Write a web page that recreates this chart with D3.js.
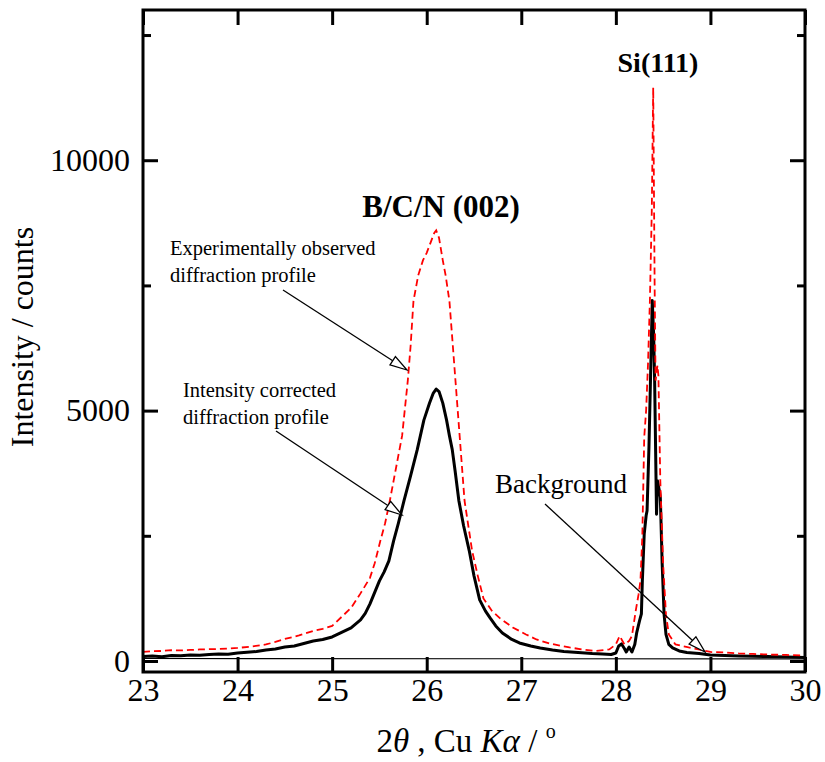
<!DOCTYPE html>
<html>
<head>
  <title>B/C/N XRD profile</title>
  <style>
    body { margin: 0; background: #fff; }
    text { font-family: "Liberation Serif", "Times New Roman", serif; fill: #000; }
  </style>
</head>
<body>
  <svg id="chart"></svg>

  <script src="https://d3js.org/d3.v7.min.js"></script>
  <script>
    // intensity corrected profile (solid black)
    const corrTheta = [23.0, 23.1, 23.2, 23.3, 23.4, 23.5, 23.6, 23.7, 23.8, 23.9, 24.0, 24.1, 24.2, 24.3, 24.4, 24.5, 24.6, 24.7, 24.8, 24.9, 25.0, 25.1, 25.2, 25.3, 25.35, 25.4, 25.45, 25.5, 25.55, 25.6, 25.65, 25.7, 25.76, 25.83, 25.9, 25.97, 26.03, 26.07, 26.1, 26.13, 26.17, 26.21, 26.24, 26.27, 26.3, 26.34, 26.39, 26.45, 26.5, 26.56, 26.62, 26.67, 26.73, 26.8, 26.9, 26.98, 27.1, 27.2, 27.33, 27.45, 27.6, 27.75, 27.86, 27.95, 28.0, 28.03, 28.06, 28.09, 28.11, 28.14, 28.17, 28.2, 28.22, 28.25, 28.27, 28.28, 28.30, 28.32, 28.33, 28.35, 28.37, 28.385, 28.40, 28.41, 28.43, 28.44, 28.46, 28.47, 28.49, 28.51, 28.53, 28.56, 28.6, 28.67, 28.75, 28.88, 29.0, 29.15, 29.3, 29.45, 29.6, 29.8, 30.0];
    const corrI = [90, 100, 85, 110, 105, 120, 115, 130, 140, 135, 160, 175, 190, 220, 240, 280, 300, 350, 400, 430, 480, 570, 660, 820, 950, 1140, 1370, 1600, 1780, 2000, 2400, 2750, 3200, 3700, 4220, 4810, 5150, 5350, 5430, 5380, 5150, 4810, 4500, 4220, 3800, 3200, 2700, 2200, 1700, 1220, 1000, 860, 700, 560, 430, 360, 300, 260, 220, 190, 170, 150, 140, 130, 160, 300, 340, 250, 180, 280, 180, 330, 560, 800, 940, 1600, 2540, 2900, 3000, 4270, 5930, 7200, 6500, 5600, 2930, 3600, 3400, 3270, 1930, 930, 530, 330, 260, 200, 170, 150, 120, 110, 100, 95, 90, 80, 70];

    // experimentally observed profile (red dashed)
    const obsTheta = [23.0, 23.1, 23.2, 23.3, 23.4, 23.5, 23.6, 23.7, 23.8, 23.9, 24.0, 24.15, 24.3, 24.4, 24.5, 24.65, 24.8, 24.9, 25.0, 25.1, 25.2, 25.3, 25.4, 25.45, 25.51, 25.56, 25.61, 25.66, 25.7, 25.74, 25.8, 25.83, 25.86, 25.91, 25.96, 26.0, 26.04, 26.08, 26.1, 26.13, 26.17, 26.2, 26.24, 26.28, 26.32, 26.36, 26.4, 26.44, 26.48, 26.54, 26.6, 26.69, 26.77, 26.91, 27.05, 27.16, 27.3, 27.51, 27.65, 27.79, 27.93, 28.0, 28.04, 28.07, 28.09, 28.12, 28.14, 28.17, 28.21, 28.24, 28.26, 28.28, 28.30, 28.32, 28.34, 28.36, 28.38, 28.395, 28.41, 28.42, 28.44, 28.45, 28.47, 28.5, 28.53, 28.56, 28.63, 28.7, 28.77, 28.9, 29.0, 29.15, 29.3, 29.45, 29.6, 29.8, 30.0];
    const obsI = [180, 195, 200, 215, 210, 220, 230, 235, 240, 250, 260, 290, 330, 380, 440, 510, 600, 640, 700, 880, 1060, 1350, 1660, 1950, 2400, 2750, 3200, 3700, 4100, 4500, 5600, 6300, 7190, 7700, 8000, 8150, 8350, 8550, 8600, 8450, 8000, 7700, 7190, 6200, 5200, 4200, 3200, 2700, 2200, 1700, 1250, 1000, 860, 670, 530, 430, 350, 270, 230, 200, 230, 330, 500, 400, 330, 370, 400, 500, 1000, 1330, 1600, 2500, 4470, 5000, 5930, 7200, 9000, 11450, 7500, 5600, 5900, 5700, 3600, 1930, 930, 530, 330, 300, 270, 220, 180, 170, 150, 140, 130, 120, 110];

    // background line
    const bgTheta = [23.0, 30.0];
    const bgI = [50, 40];

    const xTicks = [23, 24, 25, 26, 27, 28, 29, 30];
    const yMajor = [0, 5000, 10000];
    const yMinor = [2500, 7500, 12500];

    const W = 825, H = 762;
    const mLeft = 143, mRight = 805, mTop = 10, mBottom = 672;

    const svg = d3.select('#chart').attr('width', W).attr('height', H);

    const x = d3.scaleLinear().domain([23, 30]).range([mLeft, mRight]);
    const y = d3.scaleLinear().domain([-220, 13000]).range([mBottom, mTop]);

    const plot = svg.append('g');

    // curves
    const line = d3.line().x(d => x(d[0])).y(d => y(d[1]));

    plot.append('path')
      .datum(d3.zip(bgTheta, bgI))
      .attr('d', line)
      .attr('fill', 'none').attr('stroke', '#000').attr('stroke-width', 1.2);

    plot.append('path')
      .datum(d3.zip(corrTheta, corrI))
      .attr('d', line)
      .attr('fill', 'none').attr('stroke', '#000').attr('stroke-width', 3)
      .attr('stroke-linejoin', 'round');

    plot.append('path')
      .datum(d3.zip(obsTheta, obsI))
      .attr('d', line)
      .attr('fill', 'none').attr('stroke', '#ff0000').attr('stroke-width', 1.8)
      .attr('stroke-dasharray', '7,4');

    // axes, ticks inward
    function styleAxis(g) {
      g.select('.domain').remove();
      g.selectAll('.tick line').attr('stroke-width', 3);
      g.selectAll('.tick text').style('font-size', '32px')
        .style('font-family', '"Liberation Serif", serif');
    }

    svg.append('g').attr('transform', `translate(0,${mBottom})`)
      .call(d3.axisBottom(x).tickValues(xTicks).tickSizeInner(-15).tickSizeOuter(0).tickPadding(6).tickFormat(d3.format('d')))
      .call(styleAxis);
    svg.append('g').attr('transform', `translate(0,${mTop})`)
      .call(d3.axisTop(x).tickValues(xTicks).tickSizeInner(-15).tickSizeOuter(0).tickFormat(''))
      .call(styleAxis);

    svg.append('g').attr('transform', `translate(${mLeft},0)`)
      .call(d3.axisLeft(y).tickValues(yMajor).tickSizeInner(-15).tickSizeOuter(0).tickPadding(13).tickFormat(d3.format('d')))
      .call(styleAxis);
    svg.append('g').attr('transform', `translate(${mLeft},0)`)
      .call(d3.axisLeft(y).tickValues(yMinor).tickSizeInner(-8).tickSizeOuter(0).tickFormat(''))
      .call(styleAxis);
    svg.append('g').attr('transform', `translate(${mRight},0)`)
      .call(d3.axisRight(y).tickValues(yMajor).tickSizeInner(-15).tickSizeOuter(0).tickFormat(''))
      .call(styleAxis);
    svg.append('g').attr('transform', `translate(${mRight},0)`)
      .call(d3.axisRight(y).tickValues(yMinor).tickSizeInner(-8).tickSizeOuter(0).tickFormat(''))
      .call(styleAxis);

    // frame
    svg.append('rect')
      .attr('x', mLeft).attr('y', mTop)
      .attr('width', mRight - mLeft).attr('height', mBottom - mTop)
      .attr('fill', 'none').attr('stroke', '#000').attr('stroke-width', 3);

    // axis titles
    svg.append('text')
      .attr('transform', 'translate(33,337) rotate(-90)')
      .attr('text-anchor', 'middle')
      .style('font-size', '32px')
      .text('Intensity / counts');

    const xt = svg.append('text')
      .attr('x', 466).attr('y', 752)
      .attr('text-anchor', 'middle')
      .style('font-size', '33px');
    xt.append('tspan').text('2');
    xt.append('tspan').style('font-style', 'italic').text('θ');
    xt.append('tspan').text(' , Cu ');
    xt.append('tspan').style('font-style', 'italic').text('Kα');
    xt.append('tspan').text(' / ');
    xt.append('tspan').attr('dy', -14).style('font-size', '20px').text('o');

    // peak labels
    svg.append('text').attr('x', 658).attr('y', 72).attr('text-anchor', 'middle')
      .style('font-size', '28px').style('font-weight', 'bold').text('Si(111)');
    svg.append('text').attr('x', 441).attr('y', 217).attr('text-anchor', 'middle')
      .style('font-size', '31px').style('font-weight', 'bold').text('B/C/N (002)');

    // annotations
    function note(x0, y0, lines, size) {
      lines.forEach((s, i) => {
        svg.append('text').attr('x', x0).attr('y', y0 + i * 27)
          .style('font-size', size + 'px').text(s);
      });
    }
    note(170, 255, ['Experimentally observed', 'diffraction profile'], 20.5);
    note(183, 397, ['Intensity corrected', 'diffraction profile'], 20.5);
    note(495, 493, ['Background'], 27);

    function arrow(x1, y1, x2, y2) {
      const ang = Math.atan2(y2 - y1, x2 - x1);
      const len = 17, hw = 5;
      const bx = x2 - len * Math.cos(ang), by = y2 - len * Math.sin(ang);
      svg.append('line').attr('x1', x1).attr('y1', y1).attr('x2', bx).attr('y2', by)
        .attr('stroke', '#000').attr('stroke-width', 1.3);
      const px = -Math.sin(ang) * hw, py = Math.cos(ang) * hw;
      svg.append('polygon')
        .attr('points', `${x2},${y2} ${bx + px},${by + py} ${bx - px},${by - py}`)
        .attr('fill', '#fff').attr('stroke', '#000').attr('stroke-width', 1.3);
    }
    arrow(283, 290, 407, 370);
    arrow(276, 431, 402, 515);
    arrow(545, 504, 705, 652);
  </script>
</body>
</html>
